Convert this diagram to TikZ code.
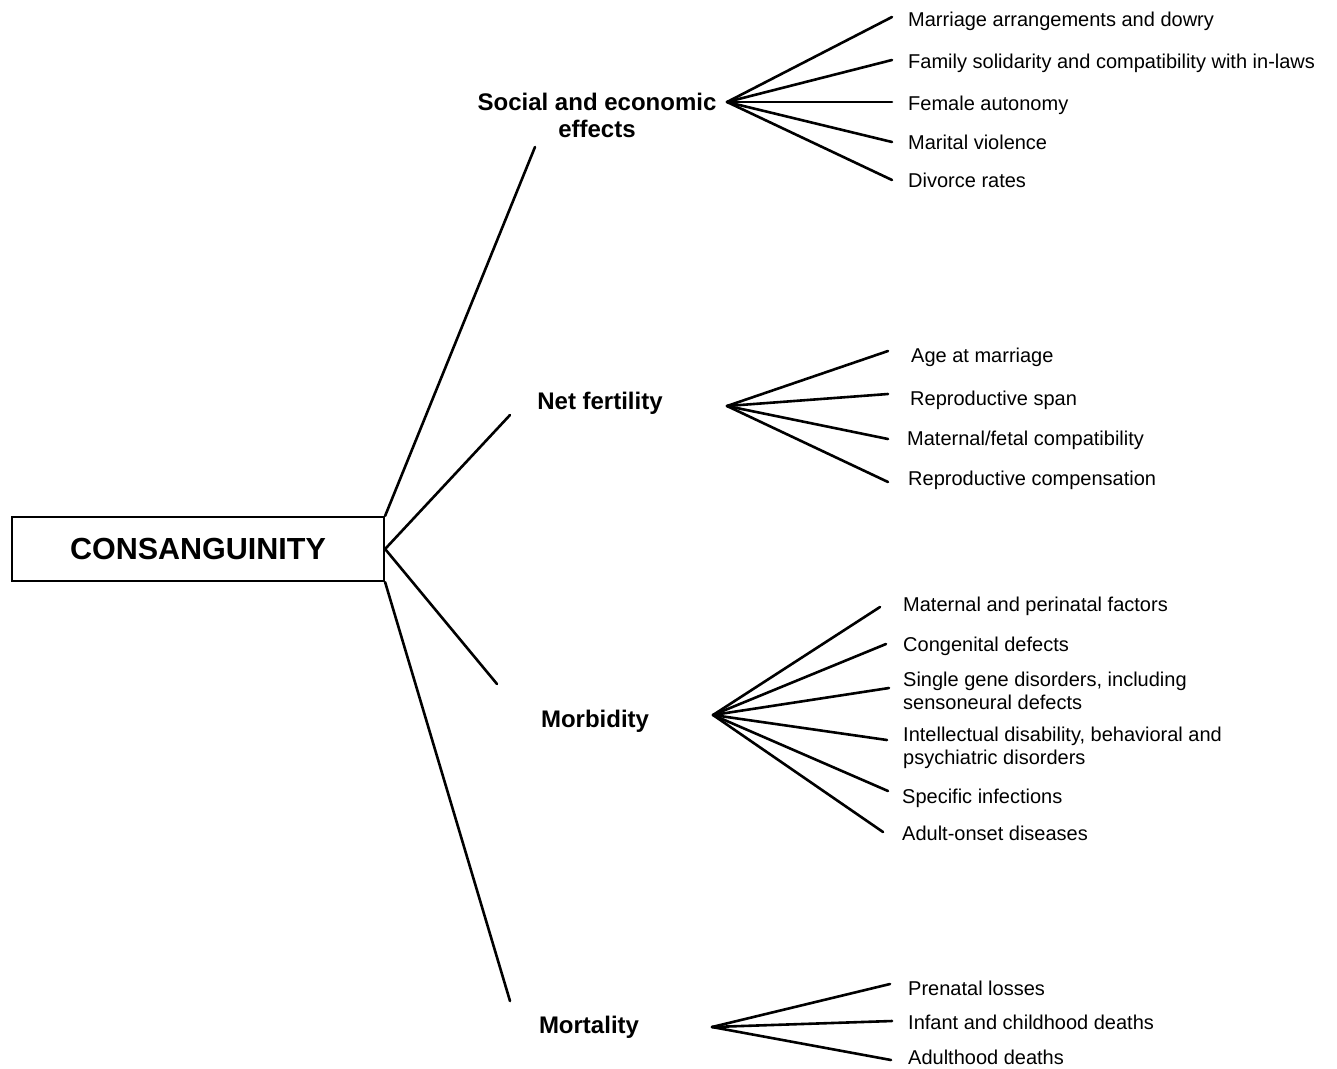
\documentclass[tikz,border=0pt]{standalone}
\usepackage{fontspec}
\setmainfont{Liberation Sans}
\begin{document}
\begin{tikzpicture}[x=1pt,y=-1pt,
  conn/.style={line width=2.6pt, line cap=round},
  head/.style={font=\bfseries\fontsize{24}{27.5}\selectfont, inner sep=0pt, anchor=base},
  item/.style={font=\fontsize{20}{23}\selectfont, inner sep=0pt, anchor=base west},
  mainbox/.style={draw, line width=2.2pt, minimum width=372pt, minimum height=64pt, inner sep=0pt,
    font=\bfseries\fontsize{30.5}{36}\selectfont}
]
\useasboundingbox[fill=white] (0,0) rectangle (1337,1068);

% central box
\node[mainbox] (cons) at (198,549) {CONSANGUINITY};

% headings
\node[head] (soc) at (597,110) {\begin{tabular}[t]{@{}c@{}}Social and economic\\effects\end{tabular}};
\node[head] (nf) at (600,409) {Net fertility};
\node[head] (mb) at (595,727) {Morbidity};
\node[head] (mt) at (589,1033) {Mortality};

% ends of the connectors from the box
\coordinate (socin) at (535,147);
\coordinate (nfin) at (510,415);
\coordinate (mbin) at (497,684);
\coordinate (mtin) at (510,1001);
\draw[conn] (cons.north east) -- (socin);
\draw[conn] (cons.east) -- (nfin);
\draw[conn] (cons.east) -- (mbin);
\draw[conn] (cons.south east) -- (mtin);

% hubs
\coordinate (sochub) at (727,102);
\coordinate (nfhub) at (727,406);
\coordinate (mbhub) at (713,715);
\coordinate (mthub) at (712,1027);

% social items
\node[item] (s1) at (908,27) {Marriage arrangements and dowry};
\node[item] (s2) at (908,68) {Family solidarity and compatibility with in-laws};
\node[item] (s3) at (908,110) {Female autonomy};
\node[item] (s4) at (908,149) {Marital violence};
\node[item] (s5) at (908,187) {Divorce rates};
\coordinate (s1e) at (892,17);
\coordinate (s2e) at (892,60);
\coordinate (s3e) at (892,102);
\coordinate (s4e) at (892,142);
\coordinate (s5e) at (892,180);
\foreach \e in {s1e,s2e,s3e,s4e,s5e} \draw[conn] (sochub) -- (\e);

% net fertility items
\node[item] (n1) at (911,362) {Age at marriage};
\node[item] (n2) at (910,405) {Reproductive span};
\node[item] (n3) at (907,445) {Maternal/fetal compatibility};
\node[item] (n4) at (908,485) {Reproductive compensation};
\coordinate (n1e) at (888,351);
\coordinate (n2e) at (888,394);
\coordinate (n3e) at (888,439);
\coordinate (n4e) at (888,482);
\foreach \e in {n1e,n2e,n3e,n4e} \draw[conn] (nfhub) -- (\e);

% morbidity items
\node[item] (m1) at (903,611) {Maternal and perinatal factors};
\node[item] (m2) at (903,651) {Congenital defects};
\node[item] (m3) at (903,686) {\begin{tabular}[t]{@{}l@{}}Single gene disorders, including\\sensoneural defects\end{tabular}};
\node[item] (m4) at (903,741) {\begin{tabular}[t]{@{}l@{}}Intellectual disability, behavioral and\\psychiatric disorders\end{tabular}};
\node[item] (m5) at (902,803) {Specific infections};
\node[item] (m6) at (902,840) {Adult-onset diseases};
\coordinate (m1e) at (880,607);
\coordinate (m2e) at (886,644);
\coordinate (m3e) at (889,688);
\coordinate (m4e) at (887,740);
\coordinate (m5e) at (888,791);
\coordinate (m6e) at (883,832);
\foreach \e in {m1e,m2e,m3e,m4e,m5e,m6e} \draw[conn] (mbhub) -- (\e);

% mortality items
\node[item] (t1) at (908,995) {Prenatal losses};
\node[item] (t2) at (908,1029) {Infant and childhood deaths};
\node[item] (t3) at (908,1064) {Adulthood deaths};
\coordinate (t1e) at (890,984);
\coordinate (t2e) at (892,1021);
\coordinate (t3e) at (891,1060);
\foreach \e in {t1e,t2e,t3e} \draw[conn] (mthub) -- (\e);
\end{tikzpicture}
\end{document}
